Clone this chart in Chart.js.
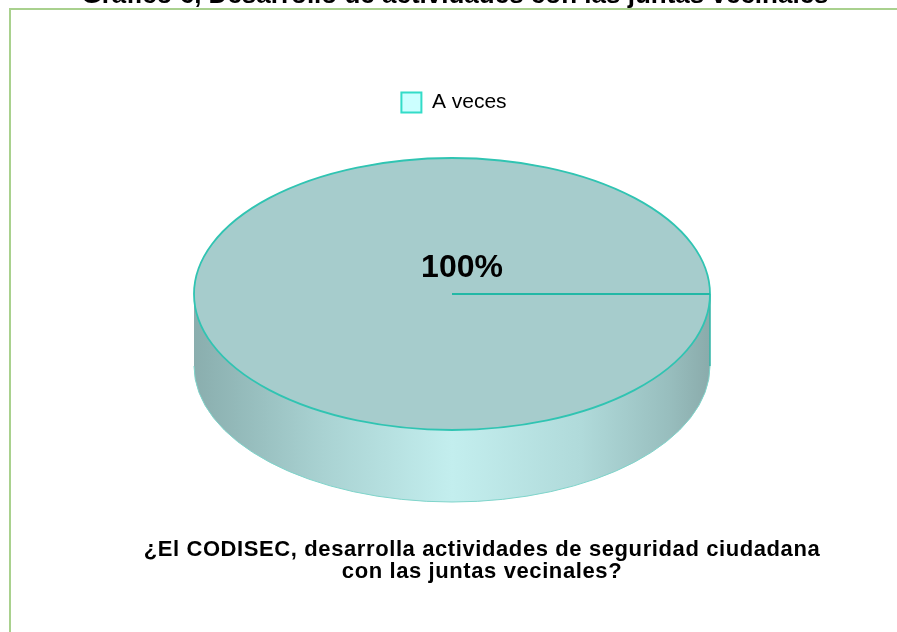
<!DOCTYPE html>
<html>
<head>
<meta charset="utf-8">
<script src="https://cdn.jsdelivr.net/npm/chart.js@4"></script>
<style>
  html, body { margin: 0; padding: 0; background: #fff; overflow: hidden; }
  #wrap { position: relative; width: 897px; height: 632px; }
  #frame { position: absolute; left: 9px; top: 8px; width: 900px; height: 640px;
           border-left: 2px solid #a9d18e; border-top: 2px solid #a9d18e; }
  #chart { position: absolute; left: 0; top: 0; }
</style>
</head>
<body>
<div id="wrap">
  <div id="frame"></div>
  <canvas id="chart" width="897" height="632"></canvas>
</div>
<script>
// data
const categories = ['A veces'];
const values = [100];
const chartTitle = 'Gráfico 6, Desarrollo de actividades con las juntas vecinales';
const questionLines = [
    '¿El CODISEC, desarrolla actividades de seguridad ciudadana',
    'con las juntas vecinales?'
];

// 3d look of the pie (layout only)
const CX = 452, CY = 294, RX = 258, RY = 136, DEPTH = 72;
const FONT = "'Liberation Sans', Arial, sans-serif";

// draws the pie as a flattened disc with a shaded side
const pie3d = {
    id: 'pie3d',
    beforeDatasetsDraw(chart) {
        const ctx = chart.ctx;
        const arc = chart.getDatasetMeta(0).data[0];
        const r = arc.outerRadius;
        const s = RX / r;
        const k = RY / RX;
        const d = DEPTH / (s * k);

        ctx.save();
        ctx.translate(CX, CY);
        ctx.scale(s, s * k);
        ctx.translate(-arc.x, -arc.y);

        const g = ctx.createLinearGradient(arc.x - r, 0, arc.x + r, 0);
        g.addColorStop(0, '#8aaeae');
        g.addColorStop(0.08, '#93b9b9');
        g.addColorStop(0.25, '#a9d2d2');
        g.addColorStop(0.5, '#c3eeee');
        g.addColorStop(0.75, '#b0dada');
        g.addColorStop(0.92, '#98bebe');
        g.addColorStop(1, '#8aabab');

        ctx.beginPath();
        ctx.arc(arc.x, arc.y, r, 0, Math.PI);
        ctx.lineTo(arc.x - r, arc.y + d);
        ctx.arc(arc.x, arc.y + d, r, Math.PI, 0, true);
        ctx.closePath();
        ctx.fillStyle = g;
        ctx.fill();

        // rim of the bottom
        ctx.beginPath();
        ctx.arc(arc.x, arc.y + d, r, 0, Math.PI);
        ctx.save();
        ctx.setTransform(1, 0, 0, 1, 0, 0);
        ctx.strokeStyle = '#7fd4ca';
        ctx.lineWidth = 1;
        ctx.stroke();
        ctx.restore();

        // edge of the slice on the side
        const a = arc.startAngle;
        if (Math.sin(a) >= -0.001) {
            ctx.beginPath();
            ctx.moveTo(arc.x + r * Math.cos(a), arc.y + r * Math.sin(a));
            ctx.lineTo(arc.x + r * Math.cos(a), arc.y + r * Math.sin(a) + d);
            ctx.save();
            ctx.setTransform(1, 0, 0, 1, 0, 0);
            ctx.strokeStyle = '#2fb5a6';
            ctx.lineWidth = 1.5;
            ctx.stroke();
            ctx.restore();
        }
    },
    afterDatasetsDraw(chart) {
        const ctx = chart.ctx;
        const arc = chart.getDatasetMeta(0).data[0];
        const r = arc.outerRadius;
        const a = arc.startAngle;

        ctx.beginPath();
        ctx.arc(arc.x, arc.y, r, 0, Math.PI * 2);
        ctx.save();
        ctx.setTransform(1, 0, 0, 1, 0, 0);
        ctx.strokeStyle = '#30c4b2';
        ctx.lineWidth = 1.8;
        ctx.stroke();
        ctx.restore();

        ctx.beginPath();
        ctx.moveTo(arc.x, arc.y);
        ctx.lineTo(arc.x + r * Math.cos(a), arc.y + r * Math.sin(a));
        ctx.save();
        ctx.setTransform(1, 0, 0, 1, 0, 0);
        ctx.strokeStyle = '#22b8a6';
        ctx.lineWidth = 2;
        ctx.stroke();
        ctx.restore();

        ctx.restore();

        // percentage label
        const total = values.reduce((t, v) => t + v, 0);
        ctx.save();
        ctx.font = 'bold 32px ' + FONT;
        ctx.fillStyle = '#000';
        ctx.textAlign = 'center';
        ctx.textBaseline = 'alphabetic';
        ctx.fillText(Math.round(values[0] / total * 100) + '%', CX + 10, CY - 17);
        ctx.restore();
    },
    afterDraw(chart) {
        const ctx = chart.ctx;
        ctx.save();
        ctx.fillStyle = '#000';
        ctx.textAlign = 'center';
        ctx.textBaseline = 'alphabetic';
        ctx.font = 'bold 26px ' + FONT;
        ctx.fillText(chartTitle, 455, 3);
        ctx.font = 'bold 22px ' + FONT;
        ctx.letterSpacing = '0.6px';
        questionLines.forEach((line, i) => {
            ctx.fillText(line, 482, 556 + i * 22);
        });
        ctx.restore();
    }
};

const ctx = document.getElementById('chart').getContext('2d');
new Chart(ctx, {
    type: 'pie',
    data: {
        labels: categories,
        datasets: [{
            data: values,
            backgroundColor: '#a6cccc',
            borderWidth: 0,
            clip: false
        }]
    },
    options: {
        responsive: false,
        animation: false,
        rotation: 90,
        layout: {
            padding: { top: 82, left: 11, right: 0, bottom: 0 }
        },
        plugins: {
            legend: {
                position: 'top',
                labels: {
                    boxWidth: 20,
                    boxHeight: 20,
                    color: '#222',
                    font: { family: FONT, size: 21 },
                    generateLabels: () => categories.map((c, i) => ({
                        text: c,
                        fillStyle: '#ccffff',
                        strokeStyle: '#33dcc8',
                        lineWidth: 2,
                        index: i
                    }))
                }
            },
            title: { display: false },
            tooltip: { enabled: false }
        }
    },
    plugins: [pie3d]
});
</script>
</body>
</html>
